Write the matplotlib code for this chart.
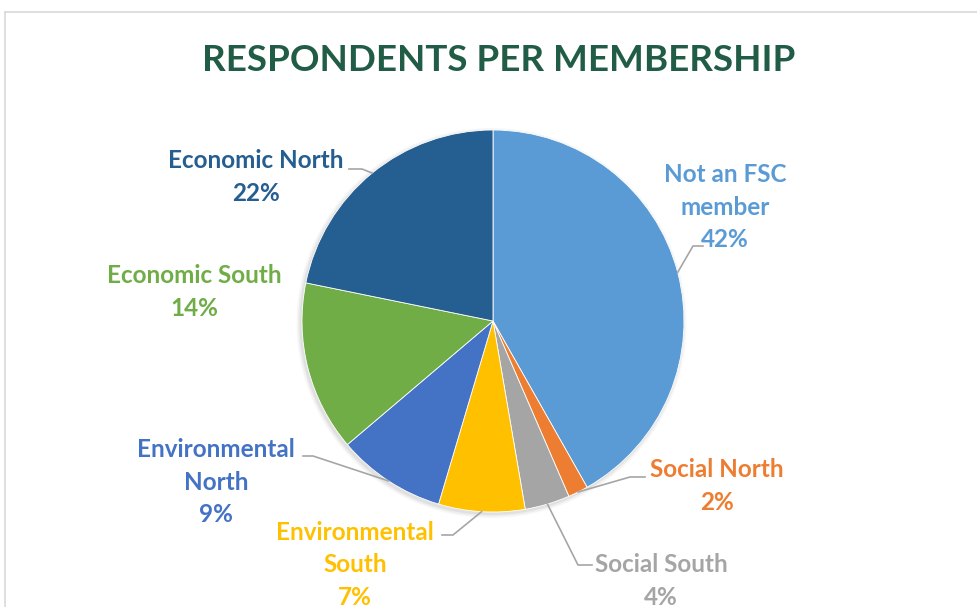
import numpy as np
import matplotlib.pyplot as plt
from matplotlib.lines import Line2D

W, H = 978, 607

# Datos (porcentaje de encuestados)
labels = ["Not an FSC\nmember", "Social North", "Social South", "Environmental\nSouth",
          "Environmental\nNorth", "Economic South", "Economic North"]
values = [41.8, 1.7, 3.8, 7.3, 9.2, 14.4, 21.8]
colors = ["#5B9BD5", "#ED7D31", "#A5A5A5", "#FFC000", "#4472C4", "#70AD47", "#255E91"]

# Posiciones de etiquetas (pixeles) y codo de la linea guia (None = sin linea)
label_pos = [(725, 207), (717, 486), (661, 581), (355, 565), (216, 482), (194, 292), (256, 177)]
elbows = [((693, 246), (703, 246)), ((630, 477), (645, 477)), ((578, 565), (592, 565)),
          ((453, 535), (442, 535)), ((313, 456), (303, 456)), None, ((362, 169), (349, 169))]

cx, cy, r = 493, 321, 191

fig = plt.figure(figsize=(W / 100, H / 100), dpi=100)
ax = fig.add_axes([0, 0, 1, 1])

# marco del grafico
fig.add_artist(Line2D([4.5 / W, 4.5 / W], [0, 1 - 11.5 / H], color="#D9D9D9", lw=1.2))
fig.add_artist(Line2D([4.5 / W, 1], [1 - 11.5 / H, 1 - 11.5 / H], color="#D9D9D9", lw=1.2))

# sombra suave
for i, a in enumerate([0.05, 0.04, 0.03]):
    ax.add_patch(plt.Circle((cx - 1.5, H - cy - 2), r + 1 + i * 1.5, color="black", alpha=a, lw=0))

wedges, _ = ax.pie(values, colors=colors, startangle=90, counterclock=False,
                   center=(cx, H - cy), radius=r, wedgeprops=dict(linewidth=0.6, edgecolor="white"))
ax.set_xlim(0, W)
ax.set_ylim(0, H)
ax.set_aspect("equal")
ax.axis("off")

font = "Lato"
ax.text(499, H - 60, "RESPONDENTS PER MEMBERSHIP", ha="center", va="center",
        fontsize=26.5, fontweight="bold", color="#215C47", family=font)

total = sum(values)
cum = 0
for lab, val, col, pos, elb in zip(labels, values, colors, label_pos, elbows):
    mid = (cum + val / 2) / total * 2 * np.pi
    cum += val
    ex, ey = cx + r * np.sin(mid), cy - r * np.cos(mid)
    txt = f"{lab}\n{round(val / total * 100):.0f}%"
    ax.text(pos[0], H - pos[1], txt, ha="center", va="center", fontsize=17.5,
            fontweight="bold", color=col, family=font, linespacing=1.48)
    if elb is not None:
        xs = [ex, elb[0][0], elb[1][0]]
        ys = [H - ey, H - elb[0][1], H - elb[1][1]]
        ax.plot(xs, ys, color="#A6A6A6", lw=1.2)

fig.savefig("out.png", dpi=100)
